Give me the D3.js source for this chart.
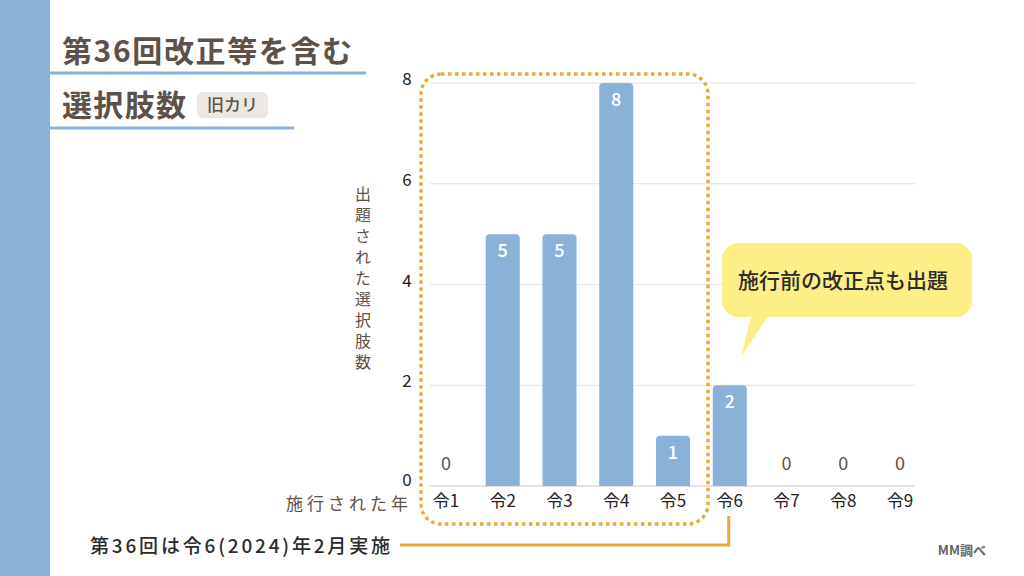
<!DOCTYPE html>
<html>
<head>
<meta charset="utf-8">
<script src="https://cdn.jsdelivr.net/npm/d3@7"></script>
<style>
  body { margin: 0; background: #fff; }
  svg { display: block; font-family: "Noto Sans CJK JP", "Noto Sans", sans-serif; }
</style>
</head>
<body>
<div id="container"></div>
<script>
const years = ["令1", "令2", "令3", "令4", "令5", "令6", "令7", "令8", "令9"];
const counts = [0, 5, 5, 8, 1, 2, 0, 0, 0];
const yTicks = [0, 2, 4, 6, 8];

const brown = "#5d5148";
const blue = "#8ab2d9";
const orange = "#eba938";

const svg = d3.select("#container").append("svg")
    .attr("width", 1024)
    .attr("height", 576);

// left band
svg.append("rect").attr("x", 0).attr("y", 0).attr("width", 50).attr("height", 576).attr("fill", blue);

// title block
svg.append("text").attr("x", 62).attr("y", 62)
    .attr("font-size", 30).attr("font-weight", 700).attr("fill", brown)
    .attr("textLength", 290).attr("lengthAdjust", "spacing")
    .text("第36回改正等を含む");
svg.append("line").attr("x1", 50).attr("x2", 366).attr("y1", 73).attr("y2", 73)
    .attr("stroke", blue).attr("stroke-width", 3);
svg.append("text").attr("x", 62).attr("y", 116)
    .attr("font-size", 30).attr("font-weight", 700).attr("fill", brown)
    .attr("textLength", 124).attr("lengthAdjust", "spacing")
    .text("選択肢数");
svg.append("rect").attr("x", 197).attr("y", 92).attr("width", 71).attr("height", 26)
    .attr("rx", 6).attr("fill", "#ebe7e1");
svg.append("text").attr("x", 232.5).attr("y", 111).attr("text-anchor", "middle")
    .attr("font-size", 17).attr("font-weight", 500).attr("fill", brown).text("旧カリ");
svg.append("line").attr("x1", 50).attr("x2", 294).attr("y1", 128).attr("y2", 128)
    .attr("stroke", blue).attr("stroke-width", 3);

// scales
const x = d3.scaleBand().domain(years).range([417.6, 928.4]).paddingInner(0.4).paddingOuter(0.2);
const y = d3.scaleLinear().domain([0, 8]).range([486, 83]);

// grid
svg.append("g").selectAll("line").data(yTicks).enter().append("line")
    .attr("x1", 430).attr("x2", 915)
    .attr("y1", d => y(d)).attr("y2", d => y(d))
    .attr("stroke", d => d === 0 ? "#c8c8c8" : "#e2e2e2").attr("stroke-width", 1.2);

// y axis
const yAxis = svg.append("g").attr("transform", "translate(414,0)")
    .call(d3.axisLeft(y).tickValues(yTicks).tickSize(0).tickPadding(0));
yAxis.select(".domain").remove();
yAxis.selectAll("text")
    .attr("font-size", 17).attr("fill", "#222")
    .attr("font-family", "'Noto Sans CJK JP', sans-serif")
    .attr("text-anchor", "middle").attr("x", -7).attr("dy", "0.1em");
yAxis.selectAll(".tick").filter(d => d === 0).select("text").attr("dy", "-0.05em");

// y axis title (vertical)
svg.append("text")
    .attr("x", 363).attr("y", 186)
    .attr("writing-mode", "vertical-rl")
    .attr("font-size", 16).attr("letter-spacing", 5).attr("fill", brown)
    .text("出題された選択肢数");

// bars with rounded top corners
const r = 4;
function barPath(d) {
    const x0 = x(d.k), w = x.bandwidth(), y0 = y(d.v), yb = y(0);
    return `M${x0},${yb}V${y0 + r}Q${x0},${y0} ${x0 + r},${y0}H${x0 + w - r}Q${x0 + w},${y0} ${x0 + w},${y0 + r}V${yb}Z`;
}
const rows = years.map((k, i) => ({ k: k, v: counts[i] }));
svg.append("g").selectAll("path").data(rows.filter(d => d.v > 0)).enter().append("path")
    .attr("d", barPath).attr("fill", blue);

// value labels
svg.append("g").selectAll("text").data(rows).enter().append("text")
    .attr("x", d => x(d.k) + x.bandwidth() / 2)
    .attr("y", d => d.v > 0 ? y(d.v) + 23 : y(0) - 16)
    .attr("text-anchor", "middle").attr("font-size", 18)
    .attr("font-weight", d => d.v > 0 ? 500 : 400)
    .attr("fill", d => d.v > 0 ? "#fff" : brown)
    .text(d => d.v);

// x axis
const xAxis = svg.append("g").attr("transform", `translate(0,${y(0)})`)
    .call(d3.axisBottom(x).tickSize(0).tickPadding(9));
xAxis.select(".domain").remove();
xAxis.selectAll("text")
    .attr("font-size", 17).attr("fill", "#222")
    .attr("font-family", "'Noto Sans CJK JP', sans-serif");

svg.append("text").attr("x", 412).attr("y", 510).attr("text-anchor", "end")
    .attr("font-size", 17).attr("letter-spacing", 4).attr("fill", brown)
    .text("施行された年");

// dotted box around 令1-令5
svg.append("rect").attr("x", 421).attr("y", 74).attr("width", 287).attr("height", 450)
    .attr("rx", 20).attr("fill", "none").attr("stroke", orange)
    .attr("stroke-width", 3.5).attr("stroke-dasharray", "3.5 3.5");

// callout
const cx = x("令6") + x.bandwidth() / 2;
svg.append("path")
    .attr("d", "M752,312 L771,312 L741,357 Z")
    .attr("fill", "#fdef88");
svg.append("rect").attr("x", 722).attr("y", 243).attr("width", 250).attr("height", 74)
    .attr("rx", 16).attr("fill", "#fdef88");
svg.append("text").attr("x", 843).attr("y", 288).attr("text-anchor", "middle")
    .attr("font-size", 21).attr("font-weight", 500).attr("fill", "#2b2b2b")
    .text("施行前の改正点も出題");

// bottom note with connector
svg.append("path")
    .attr("d", `M400,545 H${cx - 1} V516`)
    .attr("fill", "none").attr("stroke", orange).attr("stroke-width", 3);
svg.append("text").attr("x", 90).attr("y", 553)
    .attr("font-size", 19).attr("font-weight", 500).attr("fill", "#2b2b2b")
    .attr("textLength", 300).attr("lengthAdjust", "spacing")
    .text("第36回は令6(2024)年2月実施");

svg.append("text").attr("x", 986).attr("y", 555).attr("text-anchor", "end")
    .attr("font-size", 13).attr("font-weight", 700).attr("fill", "#666")
    .text("MM調べ");
</script>
</body>
</html>
